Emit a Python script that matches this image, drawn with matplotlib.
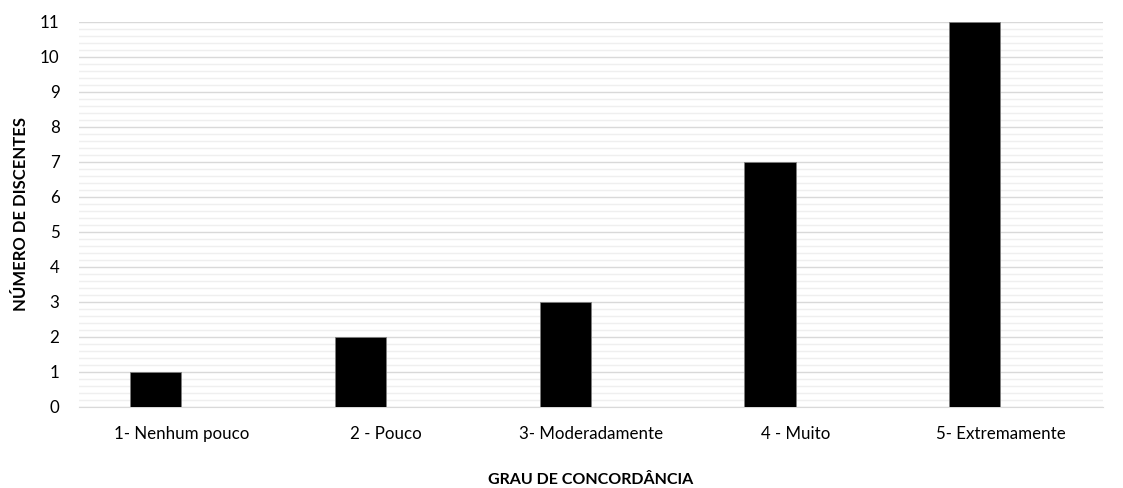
import matplotlib
matplotlib.use('Agg')
import numpy as np
from matplotlib import pyplot as plt
from matplotlib.ticker import MultipleLocator

categories = ['1- Nenhum pouco', '2 - Pouco', '3- Moderadamente', '4 - Muito', '5- Extremamente']
discentes = [1, 2, 3, 7, 11]

plt.rcParams['font.family'] = ['Lato', 'DejaVu Sans']

fig = plt.figure(figsize=(11.23, 4.88), dpi=100)
ax = fig.add_axes([0.0703, 0.166, 0.9117, 0.789])

x = np.arange(len(categories))
# bars sit just left of each category centre
ax.bar(x - 0.125, discentes, width=0.25, color='black', edgecolor='#7f7f7f', linewidth=0.6, zorder=3)

ax.set_xlim(-0.5, len(categories) - 0.5)
ax.set_ylim(0, 11)
ax.set_xticks(x)
ax.set_xticklabels(categories, fontsize=12.2)
ax.yaxis.set_major_locator(MultipleLocator(1))
ax.yaxis.set_minor_locator(MultipleLocator(0.2))
ax.tick_params(axis='y', which='both', length=0, labelsize=12.2, pad=14)
ax.tick_params(axis='x', length=0, pad=14)

ax.grid(axis='y', which='major', color='#d9d9d9', linewidth=1, zorder=0)
ax.grid(axis='y', which='minor', color='#efefef', linewidth=1, zorder=0)
for side in ['top', 'right', 'left']:
  ax.spines[side].set_visible(False)
ax.spines['bottom'].set_color('#d9d9d9')

ax.set_xlabel('GRAU DE CONCORDÂNCIA', fontsize=11.5, fontweight='bold', labelpad=22)
ax.set_ylabel('NÚMERO DE DISCENTES', fontsize=12, fontweight='bold', labelpad=8)

fig.savefig('out.png', dpi=100)
